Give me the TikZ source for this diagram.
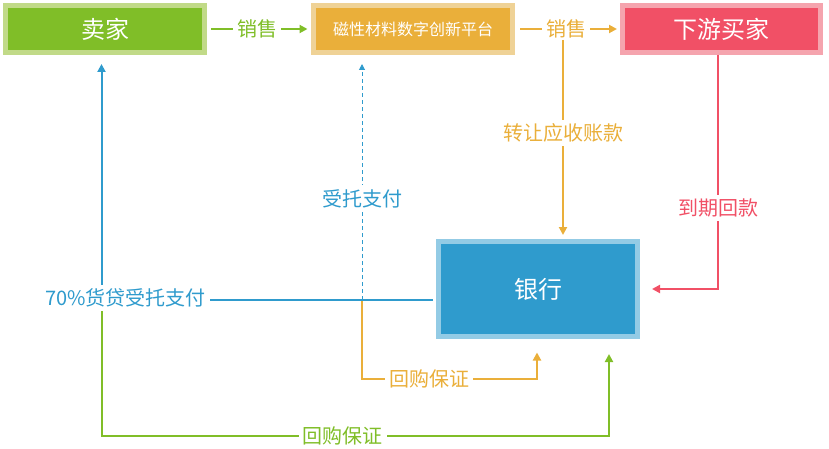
\documentclass[tikz,border=0pt]{standalone}
\usepackage{fontspec}
\setmainfont{Noto Sans CJK SC}
\usetikzlibrary{arrows.meta}
\definecolor{cgrn}{RGB}{128,190,40}
\definecolor{lgrn}{RGB}{193,218,136}
\definecolor{corg}{RGB}{234,175,58}
\definecolor{lorg}{RGB}{239,210,150}
\definecolor{cred}{RGB}{241,80,102}
\definecolor{lred}{RGB}{245,164,174}
\definecolor{cblu}{RGB}{47,155,205}
\definecolor{lblu}{RGB}{147,203,229}
\begin{document}
\begin{tikzpicture}[x=1pt,y=-1pt,
  box/.style={rectangle, line width=5pt, inner sep=0pt, outer sep=0pt, text=white},
  lab/.style={fill=white, inner sep=4pt, font=\fontsize{20}{20}\selectfont},
  conn/.style={line width=2pt, -{Triangle[length=8pt,width=8pt]}},
]
\useasboundingbox (0,0) rectangle (829,449);
% boxes
\node[box, fill=cgrn, draw=lgrn, minimum width=199pt, minimum height=47pt,
      font=\fontsize{24}{24}\selectfont] (seller) at (105,29) {卖家};
\node[box, fill=corg, draw=lorg, minimum width=199pt, minimum height=47pt,
      font=\fontsize{16}{16}\selectfont] (platform) at (413,29) {磁性材料数字创新平台};
\node[box, fill=cred, draw=lred, minimum width=198pt, minimum height=47pt,
      font=\fontsize{24}{24}\selectfont] (buyer) at (721.5,29) {下游买家};
\node[box, fill=cblu, draw=lblu, minimum width=199pt, minimum height=95pt,
      font=\fontsize{24}{24}\selectfont] (bank) at (538,289) {银行};
% sales arrows
\draw[conn, cgrn] ([shift={(6.5,0)}]seller.east) -- node[lab, text=cgrn, pos=0.48] (sale1) {销售} ([shift={(-6,0)}]platform.west);
\draw[conn, corg] ([shift={(7.5,0)}]platform.east) -- node[lab, text=corg, pos=0.475] (sale2) {销售} ([shift={(-5.5,0)}]buyer.west);
% receivables transfer
\coordinate (t1) at (563,40);
\draw[conn, corg] (t1) -- node[lab, text=corg, pos=0.477] (ltrans) {转让应收账款} ([shift={(25,-6.5)}]bank.north);
% repayment
\draw[conn, cred] ([shift={(-3.5,2.5)}]buyer.south) |- node[lab, text=cred, pos=0.327] (lrep) {到期回款} ([shift={(14.5,0)}]bank.east);
% repurchase guarantees
\coordinate (j1) at (362,301);
\coordinate (ob) at (362,379);
\coordinate (ba) at ([shift={(-1,16)}]bank.south);
\draw[conn, corg] (j1) -- (ob) -- node[lab, text=corg, pos=0.383] (lrep1) {回购保证} (ob -| ba) -- (ba);
\coordinate (gs) at (101.5,305);
\coordinate (gb) at (101.5,436);
\coordinate (bg) at ([shift={(71,17.5)}]bank.south);
\draw[conn, cgrn] (gs) -- (gb) -- node[lab, text=cgrn, pos=0.475] (lrep2) {回购保证} (gb -| bg) -- (bg);
% entrusted payment
\draw[conn, cblu] ([shift={(-5.5,11)}]bank.west) -| ([shift={(-3.5,11.5)}]seller.south);
\draw[cblu, line width=1pt, dash pattern=on 4pt off 3pt, -{Triangle[length=6pt,width=6pt]}]
  (362,300) -- node[lab, text=cblu, pos=0.43] (lent) {受托支付} ([shift={(-51,11.5)}]platform.south);
\node[lab, text=cblu] (l70) at (125.5,298) {70\%货贷受托支付};
\end{tikzpicture}
\end{document}
